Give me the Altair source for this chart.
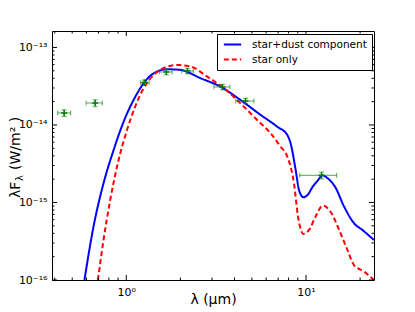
import altair as alt
import pandas as pd

# ---- data ----
x_domain = [0.386, 23.9]
y_domain = [1e-16, 1.63e-13]

series_names = ["star+dust component", "star only"]

blue_lam = [0.585, 0.657, 0.747, 0.850, 0.966, 1.098, 1.249, 1.42, 1.69, 2.0, 2.59,
            3.34, 4.32, 5.59, 6.92, 7.87, 8.21, 8.76, 9.14, 9.67, 10.2, 10.9, 11.6,
            12.35, 13.2, 14.5, 16.3, 18.5, 20.6, 23.9]
blue_F = [1e-16, 4.88e-16, 1.77e-15, 4.75e-15, 1.10e-14, 2.10e-14, 3.45e-14, 4.64e-14,
          5.23e-14, 5.13e-14, 4.01e-14, 3.12e-14, 2.10e-14, 1.35e-14, 9.5e-15, 7.43e-15,
          5.8e-15, 2.62e-15, 1.45e-15, 1.17e-15, 1.25e-15, 1.60e-15, 1.91e-15, 2.24e-15,
          2.05e-15, 1.60e-15, 8.83e-16, 5.40e-16, 4.42e-16, 3.28e-16]

red_lam = [0.695, 0.747, 0.814, 0.906, 1.009, 1.12, 1.249, 1.42, 1.69, 1.92, 2.27, 2.82,
           3.49, 4.32, 5.35, 6.35, 7.22, 7.87, 8.57, 9.03, 9.67, 10.4, 11.3, 12.4, 13.7,
           15.3, 17.0, 18.5, 21.1, 23.9]
red_F = [1e-16, 3.28e-16, 1.08e-15, 3.53e-15, 8.6e-15, 1.72e-14, 2.98e-14, 4.42e-14,
         5.65e-14, 5.94e-14, 5.7e-14, 4.2e-14, 2.98e-14, 1.90e-14, 1.16e-14, 7.82e-15,
         5.25e-15, 3.90e-15, 1.77e-15, 6.56e-16, 3.93e-16, 4.42e-16, 6.56e-16, 9.1e-16,
         7.6e-16, 4.42e-16, 2.44e-16, 1.56e-16, 1.28e-16, 1e-16]

pt_lam = [0.451, 0.671, 1.26, 1.67, 2.19, 3.43, 4.61, 12.2]
pt_F = [1.43e-14, 1.92e-14, 3.52e-14, 4.83e-14, 4.98e-14, 3.09e-14, 2.04e-14, 2.24e-15]
pt_lam_lo = [0.415, 0.598, 1.20, 1.53, 2.03, 3.07, 4.07, 9.22]
pt_lam_hi = [0.49, 0.735, 1.34, 1.80, 2.36, 3.77, 5.13, 14.8]
pt_rel_err = [0.10, 0.10, 0.08, 0.08, 0.08, 0.08, 0.08, 0.10]

x_major = [1, 10]
x_major_labels = ["10\u2070", "10\u00b9"]
x_minor = [0.4, 0.5, 0.6, 0.7, 0.8, 0.9, 2, 3, 4, 5, 6, 7, 8, 9, 20]
y_major = [1e-16, 1e-15, 1e-14, 1e-13]
y_major_labels = ["10\u207b\u00b9\u2076", "10\u207b\u00b9\u2075", "10\u207b\u00b9\u2074", "10\u207b\u00b9\u00b3"]
y_minor = [k * 10.0 ** e for e in (-16, -15, -14) for k in range(2, 10)]

x_title = "\u03bb (\u03bcm)"
y_title_main = "\u03bbF"
y_title_sub = "\u03bb"
y_title_unit = "(W/m\u00b2 )"

# ---- layout / style ----
W, H = 322, 249
GREEN = "#008000"
FONT = "DejaVu Sans"

lines = pd.DataFrame(
    {"lam": blue_lam + red_lam,
     "F": blue_F + red_F,
     "series": [series_names[0]] * len(blue_lam) + [series_names[1]] * len(red_lam)}
)
pts = pd.DataFrame({
    "lam": pt_lam, "F": pt_F, "lo": pt_lam_lo, "hi": pt_lam_hi,
    "Flo": [f * (1 - e) for f, e in zip(pt_F, pt_rel_err)],
    "Fhi": [f * (1 + e) for f, e in zip(pt_F, pt_rel_err)],
})

xs = alt.Scale(type="log", domain=x_domain, nice=False, zero=False)
ys = alt.Scale(type="log", domain=y_domain, nice=False, zero=False)


def label_expr(vals, labels):
    parts = []
    for v, l in zip(vals, labels):
        parts.append(f"abs(datum.value - {v!r}) < {v * 1e-3!r} ? '{l}'")
    return " : ".join(parts) + " : ''"


x_axis = alt.Axis(values=x_major, labelExpr=label_expr(x_major, x_major_labels),
                  ticks=False, grid=False, domain=False, labelFontSize=11,
                  labelPadding=6, labelColor="black", title=x_title,
                  titleFontSize=14, titleFontWeight="normal", titleY=23,
                  titleBaseline="alphabetic", titleColor="black")
y_axis = alt.Axis(values=y_major, labelExpr=label_expr(y_major, y_major_labels),
                  ticks=False, grid=False, domain=False, labelFontSize=11,
                  labelPadding=5, labelColor="black", title="")


def X(field):
    return alt.X(field, scale=xs, axis=x_axis)


def Y(field):
    return alt.Y(field, scale=ys, axis=y_axis)


curves = alt.Chart(lines).mark_line(clip=True, strokeWidth=2, interpolate="monotone").encode(
    x=X("lam:Q"),
    y=Y("F:Q"),
    color=alt.Color("series:N", scale=alt.Scale(domain=series_names, range=["#0000ff", "#ff0000"]),
                    legend=alt.Legend(title=None, orient="none", legendX=165, legendY=3,
                                      padding=5, strokeColor="black", fillColor="white",
                                      labelFontSize=10.5, labelColor="black",
                                      symbolType="M-2,0L2,0", symbolSize=75, symbolOffset=5,
                                      symbolStrokeWidth=2, rowPadding=4, labelOffset=14,
                                      cornerRadius=0)),
    strokeDash=alt.StrokeDash("series:N", scale=alt.Scale(domain=series_names, range=[[1, 0], [5, 3]]),
                              legend=alt.Legend(title=None)),
    order="lam:Q",
)

base_pts = alt.Chart(pts)
xerr = base_pts.mark_rule(color=GREEN, opacity=0.55, strokeWidth=1.2).encode(
    x=X("lo:Q"), x2="hi:Q", y=Y("F:Q"))
yerr = base_pts.mark_rule(color=GREEN, opacity=0.55, strokeWidth=1.2).encode(
    x=X("lam:Q"), y=Y("Flo:Q"), y2="Fhi:Q")

hcap = "M-1,0L1,0"
vcap = "M0,-1L0,1"
cap_kw = dict(filled=False, size=25, strokeWidth=1.2, color=GREEN, opacity=0.55)
cap_lo = base_pts.mark_point(shape=vcap, **cap_kw).encode(x=X("lo:Q"), y=Y("F:Q"))
cap_hi = base_pts.mark_point(shape=vcap, **cap_kw).encode(x=X("hi:Q"), y=Y("F:Q"))
cap_flo = base_pts.mark_point(shape=hcap, **cap_kw).encode(x=X("lam:Q"), y=Y("Flo:Q"))
cap_fhi = base_pts.mark_point(shape=hcap, **cap_kw).encode(x=X("lam:Q"), y=Y("Fhi:Q"))
centers = base_pts.mark_point(shape="M-1,0L1,0M0,-1L0,1", filled=False, size=36,
                              strokeWidth=1.5, color=GREEN, opacity=1).encode(
    x=X("lam:Q"), y=Y("F:Q"))

# inward ticks on all four sides
xt_major = pd.DataFrame({"v": x_major})
xt_minor = pd.DataFrame({"v": x_minor})
yt_major = pd.DataFrame({"v": y_major})
yt_minor = pd.DataFrame({"v": y_minor})


def xticks(df, length):
    b = alt.Chart(df).mark_rule(color="black", strokeWidth=1)
    bottom = b.encode(x=X("v:Q"), y=alt.value(H), y2=alt.value(H - length))
    top = b.encode(x=X("v:Q"), y=alt.value(0), y2=alt.value(length))
    return [bottom, top]


def yticks(df, length):
    b = alt.Chart(df).mark_rule(color="black", strokeWidth=1)
    left = b.encode(y=Y("v:Q"), x=alt.value(0), x2=alt.value(length))
    right = b.encode(y=Y("v:Q"), x=alt.value(W), x2=alt.value(W - length))
    return [left, right]


tick_layers = xticks(xt_major, 5) + xticks(xt_minor, 2.5) + yticks(yt_major, 5) + yticks(yt_minor, 2.5)

# y-axis title with a subscript, written as rotated text pieces
ytitle_df = pd.DataFrame({"t": [y_title_main]})
ysub_df = pd.DataFrame({"t": [y_title_sub]})
yunit_df = pd.DataFrame({"t": [y_title_unit]})
title_kw = dict(angle=270, align="left", baseline="alphabetic", color="black", font=FONT)
yt_main = alt.Chart(ytitle_df).mark_text(fontSize=14, **title_kw).encode(
    text="t:N", x=alt.value(-32), y=alt.value(167))
yt_sub = alt.Chart(ysub_df).mark_text(fontSize=10, **title_kw).encode(
    text="t:N", x=alt.value(-29), y=alt.value(150))
yt_unit = alt.Chart(yunit_df).mark_text(fontSize=14, **title_kw).encode(
    text="t:N", x=alt.value(-32), y=alt.value(139))

chart = alt.layer(
    curves, *tick_layers, xerr, yerr, cap_lo, cap_hi, cap_flo, cap_fhi, centers,
    yt_main, yt_sub, yt_unit
).properties(
    width=W, height=H,
    autosize=alt.AutoSizeParams(type="none"),
    padding={"left": 44, "top": 23, "right": 33, "bottom": 32},
).configure(
    font=FONT,
).configure_view(
    stroke="black", strokeWidth=1,
)

chart.save("out.html", embed_options={"renderer": "svg", "actions": False})
